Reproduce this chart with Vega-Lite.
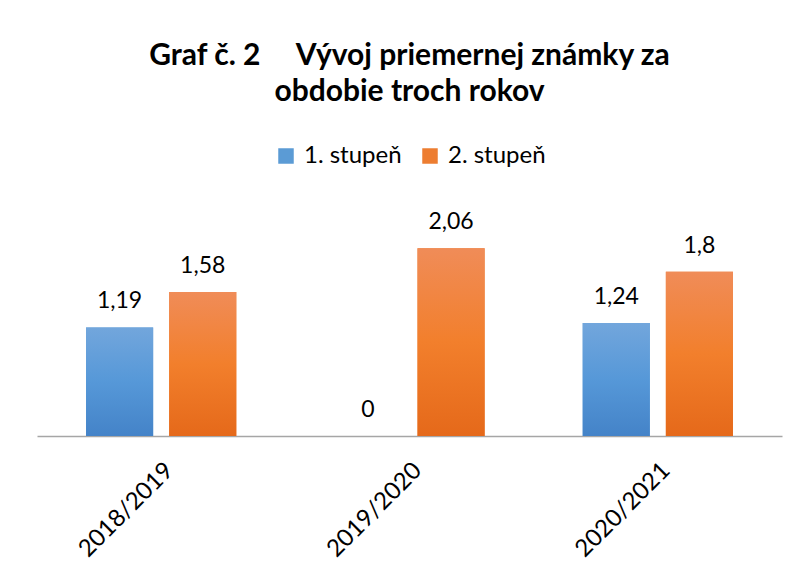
{
  "$schema": "https://vega.github.io/schema/vega-lite/v6.json",
  "width": 745,
  "height": 228,
  "autosize": {"type": "none"},
  "padding": {"left": 37, "top": 208, "right": 18, "bottom": 132},
  "background": "white",
  "config": {
    "view": {"stroke": null},
    "font": "Lato",
    "legend": {"layout": {"top": {"anchor": "middle"}}},
    "locale": {"number": {"decimal": ",", "thousands": " ", "grouping": [3], "currency": ["", " €"]}}
  },
  "title": {
    "text": ["Graf č. 2\u00a0\u00a0\u00a0\u00a0\u00a0Vývoj priemernej známky za", "obdobie troch rokov"],
    "anchor": "middle",
    "font": "Lato",
    "fontSize": 30,
    "fontWeight": "bold",
    "color": "#000000",
    "lineHeight": 36,
    "offset": 37
  },
  "data": {
    "values": [
      {"year": "2018/2019", "series": "1. stupeň", "value": 1.19},
      {"year": "2018/2019", "series": "2. stupeň", "value": 1.58},
      {"year": "2019/2020", "series": "1. stupeň", "value": 0},
      {"year": "2019/2020", "series": "2. stupeň", "value": 2.06},
      {"year": "2020/2021", "series": "1. stupeň", "value": 1.24},
      {"year": "2020/2021", "series": "2. stupeň", "value": 1.8}
    ]
  },
  "encoding": {
    "x": {
      "field": "year", "type": "nominal",
      "scale": {"paddingInner": 0.395, "paddingOuter": 0.1975},
      "axis": {
        "title": null, "labelAngle": -45, "labelFontSize": 24, "labelColor": "#000000",
        "labelPadding": 22, "ticks": false, "domainColor": "#a6a6a6", "domainWidth": 1.3,
        "labelFont": "Lato"
      }
    },
    "xOffset": {"field": "series", "type": "nominal", "scale": {"paddingInner": 0.193}},
    "y": {"field": "value", "type": "quantitative", "scale": {"domain": [0, 2.5], "nice": false}, "axis": null}
  },
  "layer": [
    {
      "mark": {"type": "bar"},
      "encoding": {
        "color": {
          "field": "series", "type": "nominal",
          "scale": {"domain": ["1. stupeň", "2. stupeň"], "range": ["#5b9bd5", "#ed7d31"]},
          "legend": {
            "title": null, "orient": "top", "direction": "horizontal",
            "symbolType": "square", "symbolSize": 240, "symbolStrokeWidth": 0,
            "labelFontSize": 24, "labelFont": "Lato", "labelColor": "#000000",
            "columnPadding": 16, "symbolOffset": 0, "labelOffset": 6, "offset": 40
          }
        }
      }
    },
    {
      "mark": {"type": "bar"},
      "encoding": {
        "fill": {
          "condition": {
            "test": "datum.series === '1. stupeň'",
            "value": {"gradient": "linear", "x1": 0, "y1": 0, "x2": 0, "y2": 1,
              "stops": [{"offset": 0, "color": "#72a6dc"}, {"offset": 0.5, "color": "#5698d8"}, {"offset": 1, "color": "#4483c8"}]}
          },
          "value": {"gradient": "linear", "x1": 0, "y1": 0, "x2": 0, "y2": 1,
            "stops": [{"offset": 0, "color": "#f08c58"}, {"offset": 0.5, "color": "#f27f2c"}, {"offset": 1, "color": "#e5691a"}]}
        }
      }
    },
    {
      "mark": {"type": "text", "baseline": "alphabetic", "dy": -19, "fontSize": 23, "font": "Lato", "color": "#000000"},
      "encoding": {
        "text": {"field": "value", "type": "quantitative", "format": ".3~g"}
      }
    }
  ]
}
